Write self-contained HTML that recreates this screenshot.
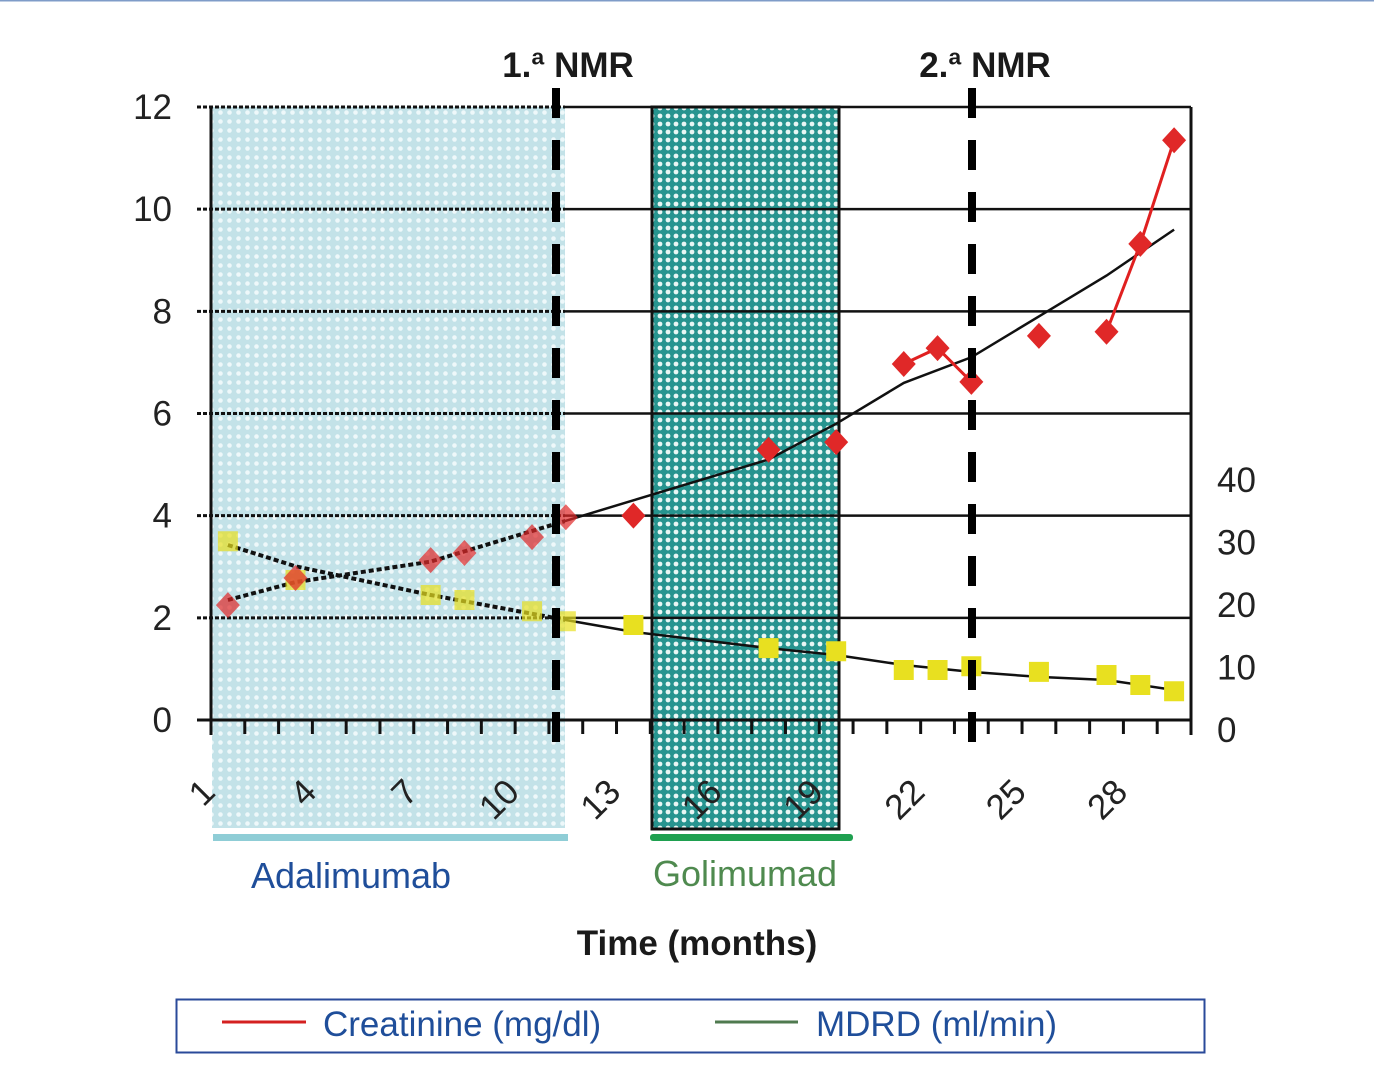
<!DOCTYPE html>
<html><head><meta charset="utf-8"><style>
body{margin:0;background:#fff;}
svg{display:block;font-family:"Liberation Sans","DejaVu Sans",sans-serif;}
</style></head><body>
<svg width="1374" height="1072" viewBox="0 0 1374 1072">
<defs>
<pattern id="lightHatch" width="9" height="9" patternUnits="userSpaceOnUse">
<rect width="9" height="9" fill="#c3e2e8"/><circle cx="4.5" cy="4.5" r="2.3" fill="#eef8fa"/></pattern>
<pattern id="tealHatch" width="8" height="8" patternUnits="userSpaceOnUse">
<rect width="8" height="8" fill="#27948f"/><circle cx="4" cy="4" r="2.4" fill="#e8f6f4"/></pattern>
<clipPath id="leftClip"><rect x="0" y="0" width="565" height="1072"/></clipPath>
<clipPath id="rightClip"><rect x="565" y="0" width="809" height="1072"/></clipPath>
</defs>
<rect x="0" y="0" width="1374" height="1.5" fill="#7f9cc8"/>
<g id="bg"></g>
<g id="grid"></g>
<g id="series"></g>
<g id="axes"></g>
<text x="568" y="77" font-size="35" font-weight="bold" text-anchor="middle" fill="#1a1a1a">1.ª NMR</text>
<text x="985" y="77" font-size="35" font-weight="bold" text-anchor="middle" fill="#1a1a1a">2.ª NMR</text>
<text x="351" y="888" font-size="36" text-anchor="middle" fill="#1f4e9a">Adalimumab</text>
<text x="745" y="886" font-size="36" text-anchor="middle" fill="#4f8a4f">Golimumad</text>
<text x="697" y="955" font-size="35" font-weight="bold" text-anchor="middle" fill="#1a1a1a">Time (months)</text>
<g>
<rect x="176.5" y="999.5" width="1028" height="53" fill="#fff" stroke="#2a4a9a" stroke-width="2"/>
<line x1="222" y1="1022" x2="306" y2="1022" stroke="#d42020" stroke-width="3"/>
<text x="323" y="1036" font-size="35" fill="#1f4e9a">Creatinine (mg/dl)</text>
<line x1="715" y1="1022" x2="798" y2="1022" stroke="#4f7a4f" stroke-width="3"/>
<text x="816" y="1036" font-size="35" fill="#1f4e9a">MDRD (ml/min)</text>
</g>
</svg>
<script>
const months = [1,3,7,8,10,11,13,17,19,21,22,23,25,27,28,29];
const creatinine = [2.25,2.78,3.13,3.27,3.58,3.97,4.0,5.29,5.44,6.97,7.28,6.62,7.52,7.6,9.32,11.35];
const mdrd = [30.2,24,21.6,20.8,19,17.4,16.8,13.1,12.6,9.6,9.6,10.2,9.3,8.8,7.2,6.2];
const trendMonths = [1,3,7,11,13,17,19,21,23,25,27,29];
const creatTrend = [2.35,2.7,3.1,3.9,4.3,5.1,5.8,6.6,7.1,7.9,8.7,9.6];
const mdrdTrend = [29.6,26.2,21.6,17.6,15.7,13.1,12,10.4,9.3,8.5,8,6.4];
const leftTicks = [0,2,4,6,8,10,12];
const rightTicks = [0,10,20,30,40];
const xLabels = [1,4,7,10,13,16,19,22,25,28];
const nCats = 29;

const NS='http://www.w3.org/2000/svg';
const X0=211, X1=1191, Y0=720, Y12=107;
const step=(X1-X0)/nCats;
const xCat=k=>X0+step*(k-0.5);
const xTick=i=>X0+step*i;
const yL=v=>Y0-(Y0-Y12)*v/12;
const yR=v=>730-6.25*v;
function mk(tag,attrs,parent){const e=document.createElementNS(NS,tag);for(const k in attrs)e.setAttribute(k,attrs[k]);document.getElementById(parent).appendChild(e);return e;}

let e;
e=mk('rect',{x:212,y:107,width:353,height:721,fill:'url(#lightHatch)'},'bg');


e=mk('rect',{x:652,y:107,width:187,height:722,fill:'url(#tealHatch)',stroke:'#111','stroke-width':3},'bg');


e=mk('rect',{x:213,y:834,width:355,height:7,fill:'#8fcdd6'},'bg');


e=mk('rect',{x:650,y:834,width:203,height:7,rx:3,fill:'#1fa050'},'bg');



leftTicks.forEach(v=>{
  const y=yL(v);
  e=mk('line',{x1:565,y1:y,x2:X1,y2:y,stroke:'#111','stroke-width':2.5},'grid');
  
  
  e=mk('line',{x1:197,y1:y,x2:565,y2:y,stroke:'#111','stroke-width':3,'stroke-dasharray':'4 2'},'grid');
  
  
  e=mk('text',{x:172,y:y+12,'font-size':35,'text-anchor':'end',fill:'#222'},'grid');
  e.textContent=v;
  
  
});
rightTicks.forEach(v=>{
  e=mk('text',{x:1217,y:yR(v)+12,'font-size':35,fill:'#222'},'grid');
  e.textContent=v;
  
  
});

function trend(arr,yf,name){
  const pts=trendMonths.map((m,i)=>[xCat(m),yf(arr[i])]);
  const d=pts.map((p,i)=>(i?'L':'M')+p[0].toFixed(1)+' '+p[1].toFixed(1)).join(' ');
  e=mk('path',{d:d,fill:'none',stroke:'#111','stroke-width':4,'stroke-dasharray':'5 3','clip-path':'url(#leftClip)'},'series');
  
  
  e=mk('path',{d:d,fill:'none',stroke:'#111','stroke-width':2.5,'clip-path':'url(#rightClip)'},'series');
  
  
}
trend(creatTrend,yL,'creatinine-trendline');
trend(mdrdTrend,yR,'mdrd-trendline');

function redLine(from,to){
  const d=months.map((m,i)=>[m,i]).filter(a=>a[0]>=from&&a[0]<=to).map((a,j)=>(j?'L':'M')+xCat(a[0]).toFixed(1)+' '+yL(creatinine[a[1]]).toFixed(1)).join(' ');
  e=mk('path',{d:d,fill:'none',stroke:'#e02020','stroke-width':3},'series');
  
  
}
redLine(21,23);redLine(27,29);

months.forEach((m,i)=>{
  const x=xCat(m), y=yR(mdrd[i]);
  e=mk('rect',{x:x-10,y:y-10,width:20,height:20,fill:'#e8e020',opacity:m<12?0.7:1},'series');
  
  
});
months.forEach((m,i)=>{
  const x=xCat(m), y=yL(creatinine[i]);
  e=mk('path',{d:`M${x} ${y-13} L${x+12} ${y} L${x} ${y+13} L${x-12} ${y} Z`,fill:'#e02828',opacity:m<12?0.7:1},'series');
  
  
});

e=mk('line',{x1:X0,y1:107,x2:X0,y2:735,stroke:'#111','stroke-width':3},'axes');


e=mk('line',{x1:X1,y1:107,x2:X1,y2:735,stroke:'#111','stroke-width':3},'axes');


e=mk('line',{x1:197,y1:Y0,x2:X1,y2:Y0,stroke:'#111','stroke-width':3},'axes');


for(let i=1;i<nCats;i++){
  e=mk('line',{x1:xTick(i),y1:Y0,x2:xTick(i),y2:734,stroke:'#111','stroke-width':3},'axes');
  
  
}
xLabels.forEach(k=>{
  const x=xTick(k-1)+6, y=794;
  e=mk('text',{x:x,y:y,'font-size':35,'text-anchor':'end',fill:'#222',transform:`rotate(-45 ${x} ${y})`},'axes');
  e.textContent=k;
  
  
});
[[556,'first-nmr-line'],[972,'second-nmr-line']].forEach(([x,n])=>{
  e=mk('line',{x1:x,y1:88,x2:x,y2:758,stroke:'#000','stroke-width':8,'stroke-dasharray':'30 22'},'axes');
  
  
});
</script>
</body></html>
